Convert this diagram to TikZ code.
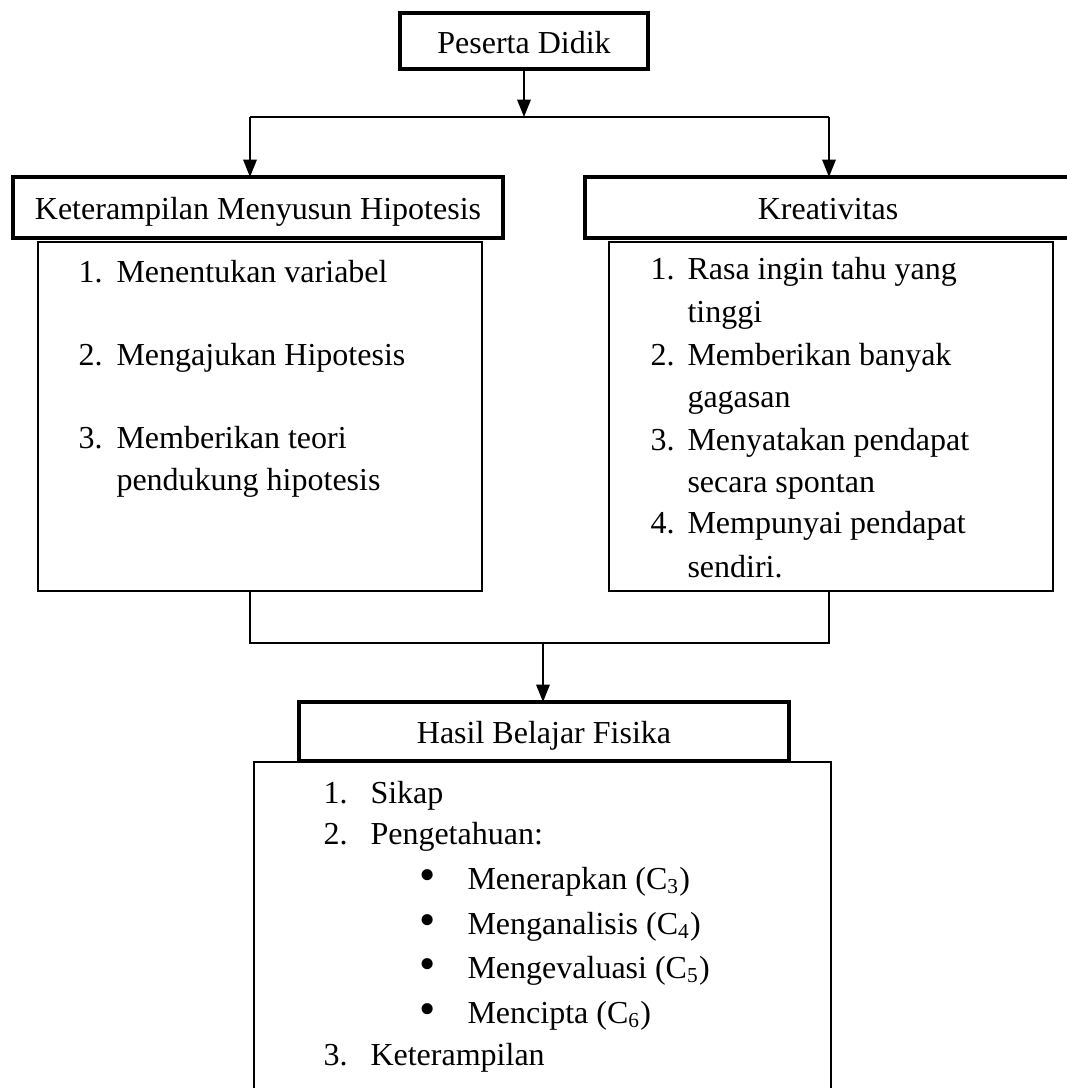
\documentclass[tikz,border=0pt]{standalone}
\usepackage{fontspec}
\setmainfont{Liberation Serif}
\usetikzlibrary{arrows.meta}
\newcommand{\bigbul}{\raisebox{-0.5pt}{\scalebox{1.45}{\textbullet}}}
\begin{document}
\begin{tikzpicture}[x=0.375pt,y=-0.375pt,
  headbox/.style={draw, line width=1.5pt, inner sep=0pt, outer sep=0pt, text height=9pt, text depth=0pt, font=\fontsize{12}{14}\selectfont},
  listbox/.style={draw, line width=0.6pt, inner sep=0pt, outer sep=0pt},
  txt/.style={anchor=base west, inner sep=0pt, font=\fontsize{12}{14}\selectfont},
  link/.style={line width=0.75pt},
  arr/.style={link, -{Triangle[length=6.5pt,width=5pt]}}]
\useasboundingbox (0,0) rectangle (1067,1088);
\clip (0,0) rectangle (1067,1088);

% boxes
\node[headbox, minimum width=93pt, minimum height=21pt] (top) at (524,41) {Peserta Didik};

\node[listbox, minimum width=166.5pt, minimum height=130.875pt] (lc) at (260,416.5) {};
\node[listbox, minimum width=166.5pt, minimum height=130.875pt] (rc) at (831,416.5) {};
\node[headbox, minimum width=183.75pt, minimum height=22.875pt] (lh) at (258,207.5) {Keterampilan Menyusun Hipotesis};
\node[headbox, minimum width=182.25pt, minimum height=22.875pt] (rh) at (828,207.5) {Kreativitas};

\node[listbox, minimum width=216.375pt, minimum height=126.75pt] (bc) at (542.5,931) {};
\node[headbox, minimum width=183.75pt, minimum height=22.125pt] (bh) at (544,731.5) {Hasil Belajar Fisika};

% connectors
\coordinate (split) at (524,117);
\coordinate (jl) at (250,117);
\coordinate (jr) at (829,117);
\draw[arr] (top.south) -- (split);
\draw[link] (jl) -- (jr);
\draw[arr] (jl) -- (jl |- lh.north);
\draw[arr] (jr) -- (jr |- rh.north);

\coordinate (mid) at (543,643);
\draw[link] (lc.south -| jl) -- (jl |- mid) -- (jr |- mid) -- (rc.south -| jr);
\draw[arr] (mid) -- (mid |- bh.north);

% left list
\node[txt] (l1n) at (78,282) {1.};
\node[txt] (l1) at (116,282) {Menentukan variabel};
\node[txt] (l2n) at (78,365) {2.};
\node[txt] (l2) at (116,365) {Mengajukan Hipotesis};
\node[txt] (l3n) at (78,448) {3.};
\node[txt] (l3) at (116,448) {Memberikan teori};
\node[txt] (l3b) at (116,490) {pendukung hipotesis};

% right list
\node[txt] (r1n) at (650,279) {1.};
\node[txt] (r1) at (687,279) {Rasa ingin tahu yang};
\node[txt] (r1b) at (687,322) {tinggi};
\node[txt] (r2n) at (650,365) {2.};
\node[txt] (r2) at (687,365) {Memberikan banyak};
\node[txt] (r2b) at (687,407) {gagasan};
\node[txt] (r3n) at (650,450) {3.};
\node[txt] (r3) at (687,450) {Menyatakan pendapat};
\node[txt] (r3b) at (687,492) {secara spontan};
\node[txt] (r4n) at (650,533) {4.};
\node[txt] (r4) at (687,533) {Mempunyai pendapat};
\node[txt] (r4b) at (687,577) {sendiri.};

% bottom list
\node[txt] (b1n) at (323,803) {1.};
\node[txt] (b1) at (370,803) {Sikap};
\node[txt] (b2n) at (323,844) {2.};
\node[txt] (b2) at (370,844) {Pengetahuan:};
\node[txt] (c3d) at (419,889) {\bigbul};
\node[txt] (c3) at (467,889) {Menerapkan (C\textsubscript{3})};
\node[txt] (c4d) at (419,934) {\bigbul};
\node[txt] (c4) at (467,934) {Menganalisis (C\textsubscript{4})};
\node[txt] (c5d) at (419,978) {\bigbul};
\node[txt] (c5) at (467,978) {Mengevaluasi (C\textsubscript{5})};
\node[txt] (c6d) at (419,1023) {\bigbul};
\node[txt] (c6) at (467,1023) {Mencipta (C\textsubscript{6})};
\node[txt] (b3n) at (323,1065) {3.};
\node[txt] (b3) at (370,1065) {Keterampilan};
\end{tikzpicture}
\end{document}
